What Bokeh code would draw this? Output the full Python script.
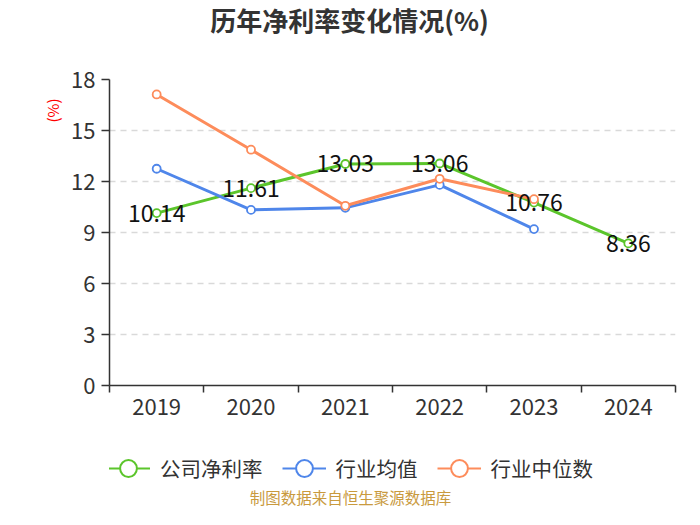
from bokeh.plotting import figure
from bokeh.layouts import column
from bokeh.models import (FactorRange, Range1d, LinearAxis, FixedTicker, Legend, LegendItem,
                          Title, Grid, Label, ColumnDataSource)
from bokeh.core.properties import value
from bokeh.embed import file_html
from bokeh.resources import INLINE

# ---- data ----
years = ["2019", "2020", "2021", "2022", "2023", "2024"]
company = [10.14, 11.61, 13.03, 13.06, 10.76, 8.36]
ind_mean_years = ["2019", "2020", "2021", "2022", "2023"]
ind_mean = [12.75, 10.33, 10.45, 11.80, 9.20]
ind_median_years = ["2019", "2020", "2021", "2022", "2023"]
ind_median = [17.12, 13.87, 10.57, 12.16, 10.96]
y_ticks = [0, 3, 6, 9, 12, 15, 18]
series_names = ["公司净利率", "行业均值", "行业中位数"]
title_text = "历年净利率变化情况(%)"
unit_text = "(%)"
source_text = "制图数据来自恒生聚源数据库"

GREEN = "#5bc52b"
BLUE = "#4f86ea"
ORANGE = "#fd8c5b"
FONT = "Noto Sans CJK SC"
DARK = "#333333"

W = 684
H_TOP, H_MAIN, H_BOT = 40, 390, 79
BL, BR = 109, 9  # left / right borders (frames are aligned in the column)


def blank_fig(h, x_range, y_range):
    f = figure(width=W, height=h, x_range=x_range, y_range=y_range,
               output_backend="svg", toolbar_location=None, x_axis_type=None, y_axis_type=None,
               min_border_left=BL, min_border_right=BR, min_border_top=0, min_border_bottom=0,
               title=None)
    f.outline_line_color = None
    f.xgrid.visible = False
    f.ygrid.visible = False
    return f


# ---- top: title ----
top = blank_fig(H_TOP, Range1d(0, 1), Range1d(0, 1))
top.add_layout(Label(x=349 - BL, y=H_TOP - 19, x_units="screen", y_units="screen",
                     text=title_text, text_align="center", text_baseline="middle",
                     text_font=FONT, text_font_size="26px", text_font_style="bold",
                     text_color=DARK))

# ---- main chart ----
p = figure(width=W, height=H_MAIN, x_range=FactorRange(*years, range_padding=0),
           y_range=Range1d(0, 18), output_backend="svg", toolbar_location=None,
           x_axis_type=None, y_axis_type=None, title=None,
           min_border_left=BL, min_border_right=BR, min_border_top=39, min_border_bottom=45)
p.outline_line_color = None

n = len(years)
xax = LinearAxis(ticker=FixedTicker(ticks=[i + 0.5 for i in range(n)],
                                    minor_ticks=[float(i) for i in range(n + 1)]),
                 major_label_overrides={i + 0.5: years[i] for i in range(n)})
xax.major_tick_line_color = None
xax.major_tick_out = 7
xax.major_tick_in = 0
xax.minor_tick_line_color = DARK
xax.minor_tick_line_width = 1.5
xax.minor_tick_out = 7
xax.minor_tick_in = 0
xax.axis_line_color = DARK
xax.axis_line_width = 1.5
xax.major_label_standoff = 6
xax.major_label_text_font = FONT
xax.major_label_text_font_size = "22px"
xax.major_label_text_color = DARK
p.add_layout(xax, "below")

yax = LinearAxis(ticker=FixedTicker(ticks=y_ticks, minor_ticks=[]))
yax.axis_line_color = DARK
yax.axis_line_width = 1.5
yax.major_tick_line_color = DARK
yax.major_tick_line_width = 1.5
yax.major_tick_out = 8
yax.major_tick_in = 0
yax.minor_tick_line_color = None
yax.major_label_standoff = 6
yax.major_label_text_font = FONT
yax.major_label_text_font_size = "22px"
yax.major_label_text_color = DARK
p.add_layout(yax, "left")

grid = Grid(dimension=1, ticker=FixedTicker(ticks=y_ticks))
grid.grid_line_color = "#d9d9d9"
grid.grid_line_width = 1.5
grid.grid_line_dash = "6 5"
p.add_layout(grid)

unit = Title(text=unit_text, align="right", offset=19, text_font=FONT, text_font_size="15px",
             text_font_style="normal", text_color="#ff0000", standoff=12)
p.add_layout(unit, "left")

series = [
    (years, company, GREEN),
    (ind_mean_years, ind_mean, BLUE),
    (ind_median_years, ind_median, ORANGE),
]
for xs, ys, col in series:
    src = ColumnDataSource(dict(x=xs, y=ys))
    p.line("x", "y", source=src, line_color=col, line_width=3)
    p.scatter("x", "y", source=src, size=8, fill_color="white", line_color=col, line_width=1.8)

lab_src = ColumnDataSource(dict(x=years, y=company, t=[f"{v:.2f}" for v in company]))
p.text("x", "y", text="t", source=lab_src, text_align="center", text_baseline="middle",
       text_font=value(FONT), text_font_size="23px", text_color="#111111")

# ---- bottom: legend + source note ----
# same categories on x; y range lies far above the data so the proxy series stay hidden
bot = blank_fig(H_BOT, FactorRange(*years, range_padding=0), Range1d(100, 200))
legend_items = []
for (xs, ys, col), name in zip(series, series_names):
    src = ColumnDataSource(dict(x=xs, y=ys))
    lr = bot.line("x", "y", source=src, line_color=col, line_width=2)
    sr = bot.scatter("x", "y", source=src, size=17, fill_color="white", line_color=col,
                     line_width=2)
    legend_items.append(LegendItem(label=name, renderers=[lr, sr]))

legend = Legend(items=legend_items, orientation="horizontal", location=(106 - BL, 20),
                glyph_width=44, glyph_height=42, label_standoff=10, spacing=19,
                padding=0, margin=0, border_line_color=None, background_fill_alpha=0,
                label_text_font=FONT, label_text_font_size="20.5px", label_text_color=DARK)
bot.add_layout(legend, "center")

bot.add_layout(Label(x=350 - BL, y=13, x_units="screen", y_units="screen", text=source_text,
                     text_align="center", text_baseline="middle", text_font=FONT,
                     text_font_size="15.5px", text_color="#c99a3e"))

layout = column(top, p, bot, spacing=0)
open("out.html", "w").write(file_html(layout, INLINE))
